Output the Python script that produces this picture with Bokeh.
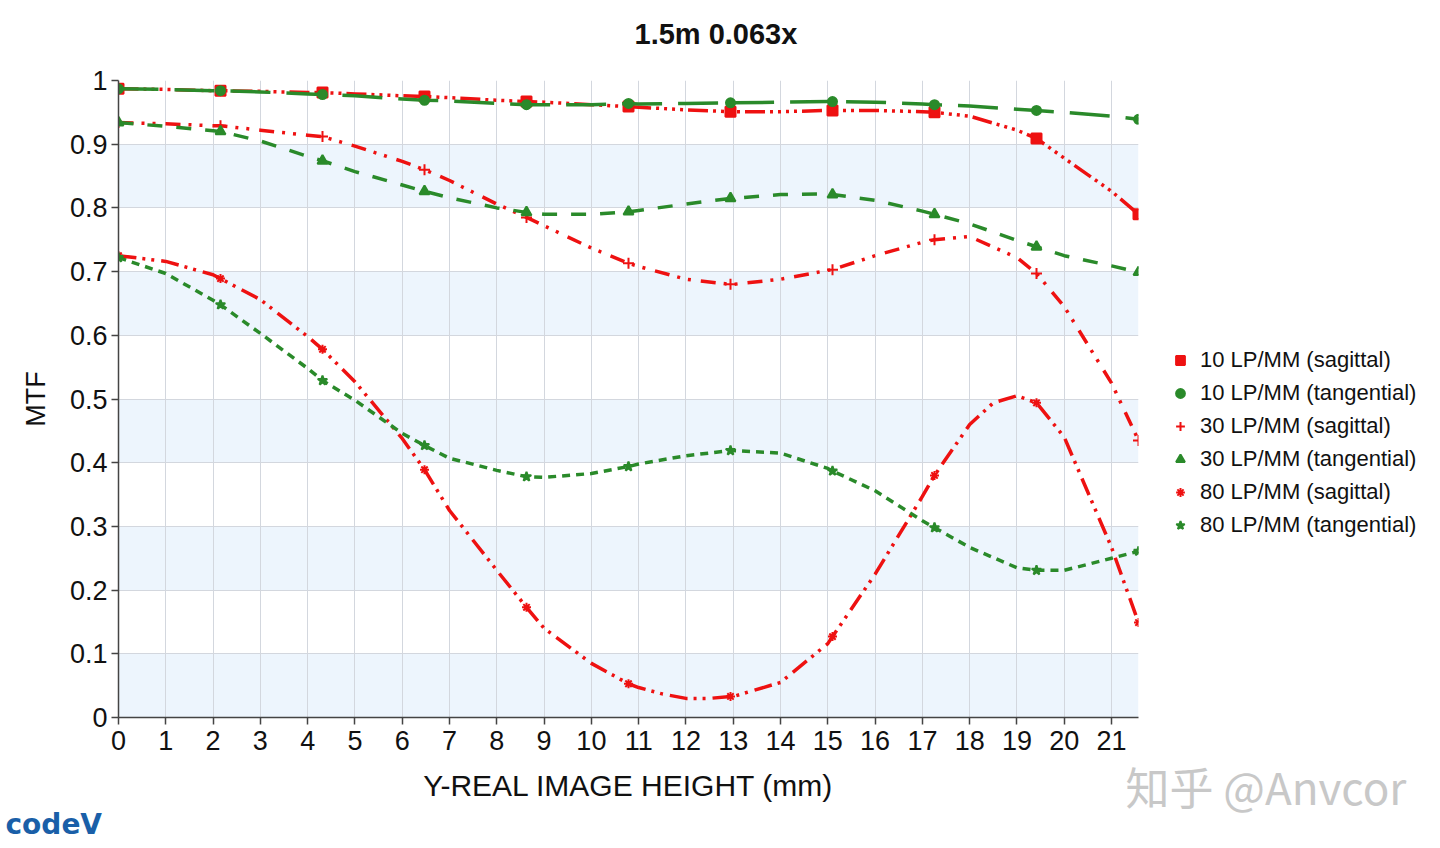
from bokeh.plotting import figure
from bokeh.models import (Legend, LegendItem, FixedTicker, NumeralTickFormatter,
                          Range1d, Title, BoxAnnotation)
from bokeh.embed import file_html
from bokeh.resources import INLINE

# ---------------- data ----------------
heights_mm = [0, 1, 2, 3, 4, 5, 6, 7, 8, 9, 10, 11, 12, 13, 14, 15, 16, 17, 18, 19, 20, 21, 21.57]
marker_mm = [0, 2.157, 4.314, 6.471, 8.628, 10.785, 12.942, 15.099, 17.256, 19.413, 21.57]

sag10 = [0.987, 0.986, 0.984, 0.983, 0.981, 0.979, 0.976, 0.973, 0.969, 0.966, 0.962, 0.958,
         0.954, 0.951, 0.951, 0.953, 0.953, 0.951, 0.944, 0.922, 0.878, 0.826, 0.790]
sag10_m = [0.987, 0.984, 0.981, 0.975, 0.967, 0.959, 0.951, 0.953, 0.950, 0.909, 0.790]

tan10 = [0.987, 0.986, 0.984, 0.982, 0.979, 0.976, 0.971, 0.968, 0.964, 0.962, 0.962, 0.963,
         0.964, 0.965, 0.966, 0.967, 0.966, 0.963, 0.960, 0.955, 0.950, 0.944, 0.939]
tan10_m = [0.987, 0.984, 0.978, 0.969, 0.962, 0.964, 0.965, 0.967, 0.962, 0.953, 0.939]

sag30 = [0.934, 0.932, 0.929, 0.922, 0.914, 0.897, 0.873, 0.843, 0.806, 0.772, 0.737, 0.708,
         0.688, 0.680, 0.688, 0.702, 0.725, 0.746, 0.755, 0.722, 0.645, 0.525, 0.435]
sag30_m = [0.934, 0.929, 0.912, 0.860, 0.785, 0.713, 0.680, 0.703, 0.750, 0.697, 0.435]

tan30 = [0.934, 0.928, 0.921, 0.905, 0.881, 0.857, 0.836, 0.816, 0.800, 0.790, 0.790, 0.796,
         0.806, 0.815, 0.821, 0.822, 0.812, 0.795, 0.775, 0.749, 0.725, 0.709, 0.699]
tan30_m = [0.934, 0.920, 0.874, 0.826, 0.793, 0.794, 0.815, 0.821, 0.790, 0.739, 0.699]

sag80 = [0.725, 0.716, 0.695, 0.656, 0.598, 0.527, 0.438, 0.325, 0.231, 0.140, 0.085, 0.047,
         0.030, 0.033, 0.055, 0.116, 0.225, 0.347, 0.460, 0.505, 0.440, 0.267, 0.149]
sag80_m = [0.725, 0.689, 0.578, 0.389, 0.173, 0.053, 0.033, 0.127, 0.380, 0.494, 0.149]
sag80_extra_mm = [11.5, 12.5, 18.5]
sag80_extra = [0.037, 0.030, 0.494]

tan80 = [0.722, 0.697, 0.655, 0.603, 0.548, 0.498, 0.446, 0.407, 0.388, 0.377, 0.383, 0.398,
         0.411, 0.419, 0.415, 0.391, 0.356, 0.309, 0.267, 0.235, 0.231, 0.250, 0.261]
tan80_m = [0.722, 0.648, 0.529, 0.427, 0.378, 0.394, 0.419, 0.387, 0.298, 0.231, 0.261]

labels = ["10 LP/MM (sagittal)", "10 LP/MM (tangential)", "30 LP/MM (sagittal)",
          "30 LP/MM (tangential)", "80 LP/MM (sagittal)", "80 LP/MM (tangential)"]
x_ticks = list(range(0, 22))
y_ticks = [0, 0.1, 0.2, 0.3, 0.4, 0.5, 0.6, 0.7, 0.8, 0.9, 1.0]

RED = "#ee1111"
GREEN = "#2a8a2a"
BAND = "#edf5fd"
FONT = "Liberation Sans"

styles = [
    dict(vals=sag10, m=sag10_m, color=RED, dash="20 5 3 5 3 5 3 5 3 5", marker="square", size=10),
    dict(vals=tan10, m=tan10_m, color=GREEN, dash="40 16", marker="circle", size=9),
    dict(vals=sag30, m=sag30_m, color=RED, dash="15 8 3 8 3 10", marker="cross", size=11),
    dict(vals=tan30, m=tan30_m, color=GREEN, dash="15 14", marker="triangle", size=10),
    dict(vals=sag80, m=sag80_m, color=RED, dash="18 6 3 6 3 7", marker="asterisk", size=9,
         ex=sag80_extra_mm, ey=sag80_extra),
    dict(vals=tan80, m=tan80_m, color=GREEN, dash="8 6", marker="star", size=10),
]

p = figure(frame_width=1020, frame_height=637, output_backend="svg", toolbar_location=None,
           x_range=Range1d(0, 21.57), y_range=Range1d(0, 1),
           min_border_left=118, min_border_right=0, min_border_top=80, min_border_bottom=0)

p.background_fill_color = "white"
p.border_fill_color = "white"
p.outline_line_color = None

# spacer title (closest to the frame) lifts the real title
p.add_layout(Title(text=" ", text_font=FONT, text_font_size="20px", standoff=7), "above")
t = Title(text="1.5m 0.063x", align="left", offset=516, text_font=FONT,
          text_font_size="29px", text_font_style="bold", text_color="#111111", standoff=0)
p.add_layout(t, "above")

# grids
p.xgrid.ticker = FixedTicker(ticks=x_ticks)
p.ygrid.ticker = FixedTicker(ticks=y_ticks)
p.xgrid.grid_line_color = "#d3d7de"
p.ygrid.grid_line_color = "#d3d7de"
p.xgrid.grid_line_width = 1
p.ygrid.grid_line_width = 1

# alternating bands between y ticks (0-0.1, 0.2-0.3, ...), drawn beneath grid lines
bands = [BoxAnnotation(bottom=y_ticks[i], top=y_ticks[i + 1], fill_color=BAND, fill_alpha=1.0,
                       line_alpha=0, level="underlay")
         for i in range(0, len(y_ticks) - 1, 2)]
p.center = bands + list(p.center)

# axes
for ax in (p.xaxis[0], p.yaxis[0]):
    ax.axis_line_color = "#444444"
    ax.axis_line_width = 1.5
    ax.major_tick_line_color = "#444444"
    ax.major_tick_line_width = 1.5
    ax.major_tick_out = 7
    ax.major_tick_in = 0
    ax.minor_tick_line_color = None
    ax.major_label_text_font = FONT
    ax.major_label_text_font_size = "27px"
    ax.major_label_text_color = "#111111"
    ax.axis_label_text_font = FONT
    ax.axis_label_text_font_style = "normal"
    ax.axis_label_text_color = "#111111"

p.xaxis.axis_label_text_font_size = "30px"
p.yaxis.axis_label_text_font_size = "27px"
p.xaxis.ticker = FixedTicker(ticks=x_ticks)
p.yaxis.ticker = FixedTicker(ticks=y_ticks)
p.yaxis.formatter = NumeralTickFormatter(format="0.[0]")
p.xaxis.axis_label = "Y-REAL IMAGE HEIGHT (mm)"
p.yaxis.axis_label = "MTF"
p.xaxis.major_label_standoff = 6
p.yaxis.major_label_standoff = 4
p.xaxis.axis_label_standoff = 16
p.yaxis.axis_label_standoff = 16

items = []
for lab, st in zip(labels, styles):
    pts = dict(zip(heights_mm, st["vals"]))
    pts.update(dict(zip(marker_mm, st["m"])))
    if "ex" in st:
        pts.update(dict(zip(st["ex"], st["ey"])))
    xs = sorted(pts.keys())
    ys = [pts[x] for x in xs]
    p.line(xs, ys, line_color=st["color"], line_width=3.5, line_dash=st["dash"],
           line_join="round")
    sc = p.scatter(marker_mm, st["m"], marker=st["marker"], size=st["size"],
                   fill_color=st["color"], line_color=st["color"], line_width=2)
    items.append(LegendItem(label=lab, renderers=[sc]))

legend = Legend(items=items, location="left", orientation="vertical",
                title=" ", title_text_font_size="10px", title_standoff=76,
                label_text_font=FONT, label_text_font_size="22px", label_text_color="#111111",
                glyph_width=40, glyph_height=22, label_standoff=0, spacing=7,
                padding=0, margin=22, border_line_alpha=0, background_fill_alpha=0,
                label_height=22)
p.add_layout(legend, "right")

def make_title(**kw):
    try:
        return Title(**kw)
    except Exception:
        kw["standoff"] = 0
        return Title(**kw)

wm = make_title(text="知乎 @Anvcor", align="left", offset=1007, standoff=-101,
                vertical_align="top",
                text_font="Noto Sans CJK SC", text_font_size="44px", text_font_style="normal",
                text_color="#c8c8c8")
p.add_layout(wm, "below")
logo = make_title(text="codeV", align="left", offset=-113, standoff=2,
                  text_font="DejaVu Sans", text_font_size="28px", text_font_style="bold",
                  text_color="#1a5fa8")
p.add_layout(logo, "below")

open("out.html", "w").write(file_html(p, INLINE))
